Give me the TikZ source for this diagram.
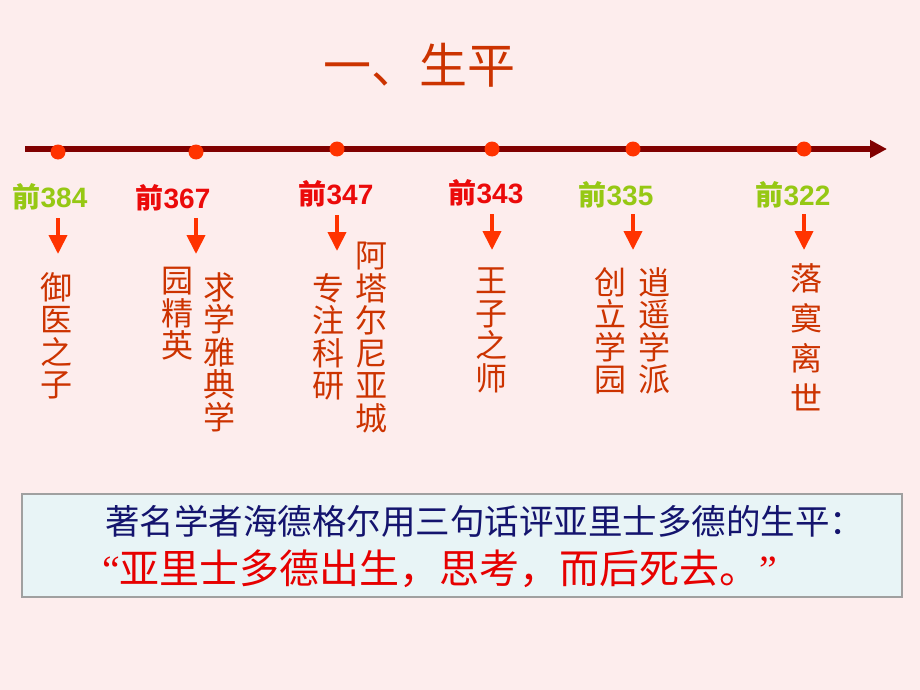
\documentclass[tikz,border=0pt]{standalone}
\usepackage{fontspec}
\setmainfont{Liberation Serif}
\newfontfamily\cjk{Noto Sans CJK SC}
\newfontfamily\arial{Liberation Sans}
\usetikzlibrary{arrows.meta}
\definecolor{bgpink}{RGB}{253,237,237}
\definecolor{titlered}{RGB}{204,51,0}
\definecolor{linedark}{RGB}{128,0,0}
\definecolor{dotred}{RGB}{255,51,0}
\definecolor{yeargreen}{RGB}{150,200,20}
\definecolor{yearred}{RGB}{235,10,10}
\definecolor{boxfill}{RGB}{232,244,246}
\definecolor{boxdraw}{RGB}{160,160,160}
\definecolor{navy}{RGB}{20,20,110}
\definecolor{quotered}{RGB}{230,0,0}
\newcommand{\yearlabel}[4]{\node[yearlbl,text=#3] (#1) at (#2) {{\cjk\bfseries 前}{\arial\bfseries #4}};}
\newcommand{\vcol}[4]{\node[vtext,font=\cjk\fontsize{32}{#3}\selectfont] (#1) at (#2) {#4};}

\begin{document}
\begin{tikzpicture}[
      x=1pt,y=-1pt,
      timeline/.style={line width=6pt,draw=linedark,-{Triangle[length=17pt,width=17pt]}},
      dot/.style={circle,fill=dotred,inner sep=0pt,minimum size=15pt},
      downarrow/.style={line width=4pt,draw=dotred,-{Triangle[length=19pt,width=18pt]}},
      yearlbl/.style={inner sep=0pt,font=\fontsize{28}{28}\selectfont},
      vtext/.style={anchor=north,align=center,inner sep=0pt,text=titlered},
      quotebox/.style={draw=boxdraw,line width=1.5pt,fill=boxfill}
      ]
      \useasboundingbox (0,0) rectangle (920,690);
      \fill[bgpink] (0,0) rectangle (920,690);

      \node[text=titlered,inner sep=0pt,font=\cjk\fontsize{48}{48}\selectfont] (title) at (419,65) {一、生平};

      \coordinate (tlstart) at (25,149);
      \coordinate (tlend) at (887,149);
      \draw[timeline] (tlstart) -- (tlend);
      \foreach \x/\y [count=\i] in {58/152,196/152,337/149,492/149,633/149,804/149}
        \node[dot] (dot\i) at (\x,\y) {};

      \yearlabel{y384}{50,197}{yeargreen}{384}
      \yearlabel{y367}{173,198}{yearred}{367}
      \yearlabel{y347}{336,194}{yearred}{347}
      \yearlabel{y343}{486,193}{yearred}{343}
      \yearlabel{y335}{616,195}{yeargreen}{335}
      \yearlabel{y322}{793,195}{yeargreen}{322}

      \foreach \x/\t [count=\i] in {58/218,196/218,337/215,492/214,633/214,804/214} {
        \coordinate (from\i) at (\x,\t);
        \coordinate (to\i) at (\x,\t+36);
        \draw[downarrow] (from\i) -- (to\i);
      }

      \vcol{c384}{56,272}{32.5}{御\\医\\之\\子}
      \vcol{c367a}{219,272}{32.5}{求\\学\\雅\\典\\学}
      \vcol{c367b}{177,267}{32.5}{园\\精\\英}
      \vcol{c347a}{371,242}{32.5}{阿\\塔\\尔\\尼\\亚\\城}
      \vcol{c347b}{328,273}{32.5}{专\\注\\科\\研}
      \vcol{c343}{491,268}{32.5}{王\\子\\之\\师}
      \vcol{c335a}{654,267}{32.5}{逍\\遥\\学\\派}
      \vcol{c335b}{610,267}{32.5}{创\\立\\学\\园}
      \vcol{c322}{806,263}{40}{落\\寞\\离\\世}

      \draw[quotebox] (22,494) rectangle (902,597);
      \node[anchor=west,inner sep=0pt,text=navy,font=\cjk\fontsize{34.5}{34.5}\selectfont] (line1) at (105,521) {著名学者海德格尔用三句话评亚里士多德的生平：};
      \node[anchor=west,inner sep=0pt,text=quotered,font=\fontsize{40}{40}\selectfont] (line2) at (102,569) {“{\cjk 亚里士多德出生，思考，而后死去。}”};
    \end{tikzpicture}
\end{document}
